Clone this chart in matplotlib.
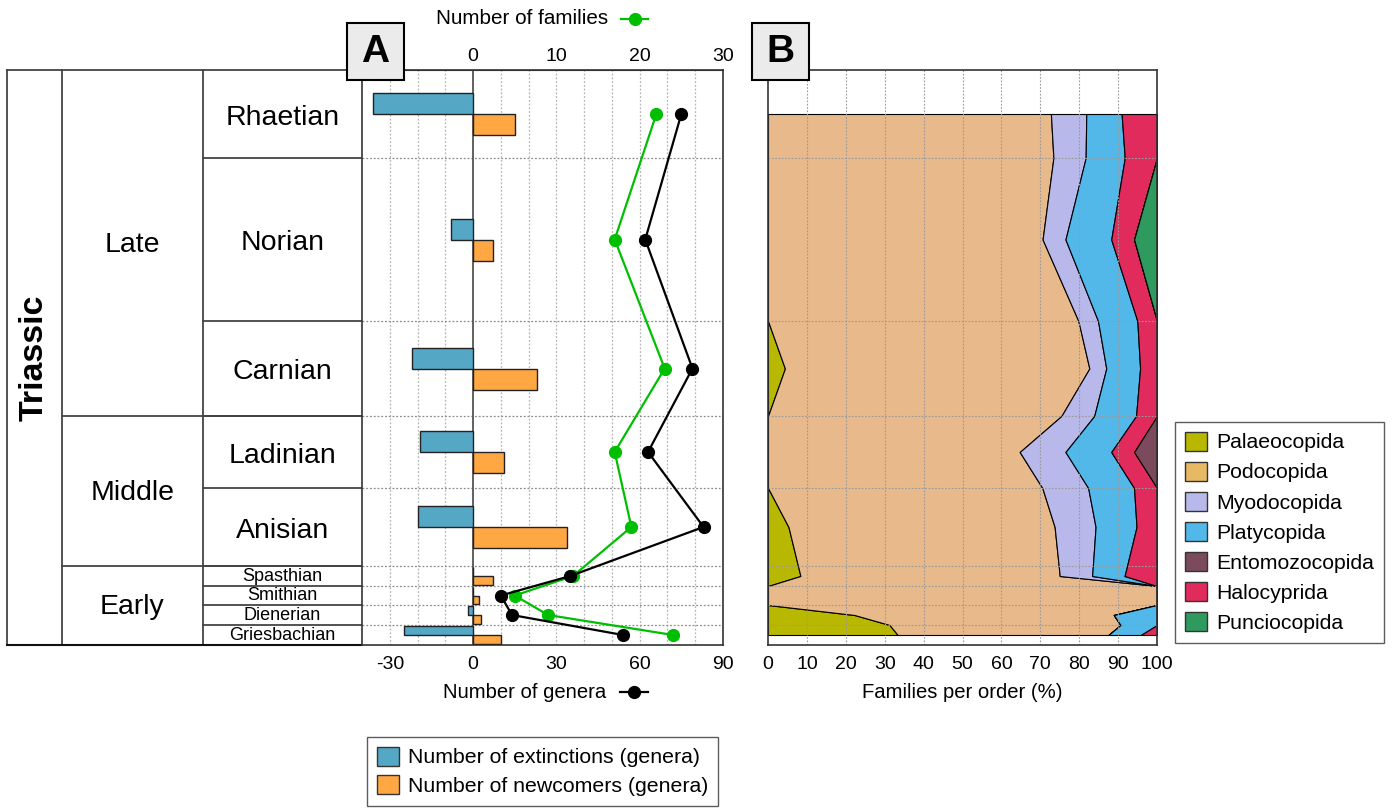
import numpy as np
import matplotlib
matplotlib.use("Agg")
import matplotlib.pyplot as plt
from matplotlib.patches import Rectangle, Patch
from matplotlib.lines import Line2D

plt.rcParams["font.family"] = ["Liberation Sans", "DejaVu Sans"]
plt.rcParams["axes.unicode_minus"] = False

# ---------------- data ----------------
period = "Triassic"
epochs = ["Late", "Middle", "Early"]
epoch_stage_count = [3, 2, 4]
stages = ["Rhaetian", "Norian", "Carnian", "Ladinian", "Anisian",
          "Spasthian", "Smithian", "Dienerian", "Griesbachian"]
stage_height = [88, 163, 95, 72, 78, 20, 19, 20, 20]   # drawn thickness of each stage row

extinctions = [36, 8, 22, 19, 20, 0, 0, 2, 25]      # genera
newcomers = [15, 7, 23, 11, 34, 7, 2, 3, 10]        # genera
genera = [75, 62, 79, 63, 83, 35, 10, 14, 54]
families = [22, 17, 23, 17, 19, 12, 5, 9, 24]

orders = ["Palaeocopida", "Podocopida", "Myodocopida", "Platycopida",
          "Entomozocopida", "Halocyprida", "Punciocopida"]
palaeocopida = [0, 0, 1, 0, 1, 1, 0, 2, 8]
podocopida = [16, 12, 18, 11, 13, 8, 5, 6, 13]
myodocopida = [2, 1, 1, 2, 2, 1, 0, 0, 0]
platycopida = [2, 2, 2, 2, 2, 1, 0, 1, 2]
entomozocopida = [0, 0, 0, 1, 0, 0, 0, 0, 0]
halocyprida = [2, 1, 1, 1, 1, 1, 0, 0, 1]
punciocopida = [0, 1, 0, 0, 0, 0, 0, 0, 0]

# ---------------- style ----------------
C_EXT = "#55a7c6"
C_NEW = "#ffa843"
C_FAM = "#00bf00"
C_GEN = "#000000"
order_fill = {
    "Palaeocopida": "#b8b800",
    "Podocopida": "#e8b98a",
    "Myodocopida": "#b8b8ea",
    "Platycopida": "#52b8ea",
    "Entomozocopida": "#7b4a5c",
    "Halocyprida": "#e02b5c",
    "Punciocopida": "#2e9a5e",
}
order_legend = dict(order_fill, Podocopida="#e8b964")

W, H = 1397, 808
fig = plt.figure(figsize=(W / 100, H / 100), dpi=100)


def fig_box(left, top, right, bottom):
    return [left / W, 1 - bottom / H, (right - left) / W, (bottom - top) / H]


bounds = np.concatenate([[0], np.cumsum(stage_height)]).astype(float)
mids = (bounds[:-1] + bounds[1:]) / 2
total = bounds[-1]

LINE = "#444444"
TXT_DY = 3.5   # optical centring of labels without descenders

# ---------------- stratigraphic column ----------------
ax_t = fig.add_axes(fig_box(7, 70, 362, 645))
ax_t.set_xlim(0, 355)
ax_t.set_ylim(total, 0)
ax_t.axis("off")
col_x = [0, 55, 195.5, 355]
for x in col_x[:3]:
    ax_t.plot([x, x], [0, total], color=LINE, lw=1.3, clip_on=False)
ax_t.plot([0, 355], [0, 0], color=LINE, lw=1.3, clip_on=False)
ax_t.plot([0, 355], [total, total], color="#111111", lw=1.5, clip_on=False)
epoch_edges = np.concatenate([[0], np.cumsum(epoch_stage_count)])
for k in epoch_edges[1:-1]:
    ax_t.plot([col_x[1], col_x[3]], [bounds[k], bounds[k]], color=LINE, lw=1.3)
for b in bounds[1:-1]:
    ax_t.plot([col_x[2], col_x[3]], [b, b], color=LINE, lw=1.3)

ax_t.text((col_x[0] + col_x[1]) / 2, total / 2, period, rotation=90,
          ha="center", va="center", fontsize=24.5, fontweight="bold")
for name, a, b in zip(epochs, epoch_edges[:-1], epoch_edges[1:]):
    ax_t.text((col_x[1] + col_x[2]) / 2, (bounds[a] + bounds[b]) / 2 + TXT_DY - 1.5, name,
              ha="center", va="center", fontsize=20.5)
for name, y, h in zip(stages, mids, stage_height):
    big = h > 40
    ax_t.text((col_x[2] + col_x[3]) / 2, y + (TXT_DY if big else 0.5), name,
              ha="center", va="center", fontsize=20.5 if big else 13)

# ---------------- panel A ----------------
axA = fig.add_axes(fig_box(362, 70, 723, 645))
axA.set_xlim(-40, 90)
axA.set_ylim(total, 0)
for v in range(-30, 90, 10):
    if v != 0:
        axA.axvline(v, color="#b5b5b5", lw=0.9, ls=(0, (1.5, 1.5)), zorder=0)
for b in bounds[1:-1]:
    axA.axhline(b, color="#8c8c8c", lw=0.9, ls=(0, (1.5, 1.5)), zorder=0)
axA.axvline(0, color="#555555", lw=1.3, zorder=1)

bar_h = np.minimum(21, 0.44 * np.array(stage_height))
axA.barh(mids - bar_h / 2, -np.array(extinctions), height=bar_h,
         color=C_EXT, edgecolor="#222222", lw=1.0, zorder=3)
axA.barh(mids + bar_h / 2, newcomers, height=bar_h,
         color=C_NEW, edgecolor="#222222", lw=1.0, zorder=3)

# families share the panel with genera: 1 family tick unit = 3 genera units
FAM_SCALE = 3
axA.plot(np.array(families) * FAM_SCALE, mids, "-o", color=C_FAM, lw=1.6,
         ms=8.5, zorder=4)
axA.plot(genera, mids, "-o", color=C_GEN, lw=1.6, ms=8.5, zorder=5)

axA.set_xticks([-30, 0, 30, 60, 90])
axA.set_yticks([])
axA.tick_params(axis="x", length=0, pad=8, labelsize=14)
sec = axA.secondary_xaxis("top", functions=(lambda g: g / FAM_SCALE,
                                              lambda f: f * FAM_SCALE))
sec.set_xticks([0, 10, 20, 30])
sec.tick_params(length=0, pad=3.5, labelsize=14)
for sp in axA.spines.values():
    sp.set_color("#333333")
    sp.set_linewidth(1.2)
sec.spines["top"].set_color("#333333")

# ---------------- panel B ----------------
axB = fig.add_axes(fig_box(768, 70, 1157, 645))
axB.set_xlim(0, 100)
axB.set_ylim(total, 0)

order_counts = {
    "Palaeocopida": palaeocopida,
    "Podocopida": podocopida,
    "Myodocopida": myodocopida,
    "Platycopida": platycopida,
    "Entomozocopida": entomozocopida,
    "Halocyprida": halocyprida,
    "Punciocopida": punciocopida,
}


def knots(c):
    """Stage-midpoint knots, closed with zero at the boundary next to an absent stage."""
    ys, vs = [], []
    n = len(c)
    for i in range(n):
        if c[i] <= 0:
            continue
        if i > 0 and c[i - 1] <= 0:
            ys.append(bounds[i]); vs.append(0.0)
        ys.append(mids[i]); vs.append(float(c[i]))
        if i < n - 1 and c[i + 1] <= 0:
            ys.append(bounds[i + 1]); vs.append(0.0)
    return np.array(ys), np.array(vs)


all_y = list(mids)
for c in order_counts.values():
    all_y += list(knots(c)[0])
y_grid = np.unique(np.clip(all_y, mids[0], mids[-1]))

curves = {}
for name, c in order_counts.items():
    ys, vs = knots(c)
    curves[name] = np.interp(y_grid, ys, vs, left=0.0, right=0.0)
tot_curve = sum(curves.values())

stack_order = ["Palaeocopida", "Podocopida", "Myodocopida", "Platycopida",
               "Halocyprida", "Entomozocopida", "Punciocopida"]
edge_kw = dict(edgecolor="black", lw=0.8, zorder=1)
lower = np.zeros_like(y_grid)
for name in stack_order:
    upper = lower + 100.0 * curves[name] / tot_curve
    axB.fill_betweenx(y_grid, lower, upper, facecolor=order_fill[name], **edge_kw)
    lower = upper

for v in range(10, 100, 10):
    axB.axvline(v, color="#9a9a9a", lw=0.8, ls=(0, (1.5, 1.5)), zorder=2)
for b in bounds[1:-1]:
    axB.axhline(b, color="#9a9a9a", lw=0.8, ls=(0, (1.5, 1.5)), zorder=2)
axB.set_xticks(range(0, 101, 10))
axB.set_yticks([])
axB.tick_params(axis="x", length=0, pad=8, labelsize=14)
for sp in axB.spines.values():
    sp.set_color("#333333")
    sp.set_linewidth(1.2)
    sp.set_zorder(4)

# ---------------- axis titles ----------------
fig.text(436 / W, 1 - 19 / H, "Number of families", ha="left", va="center", fontsize=14.9)
fig.add_artist(Line2D([621 / W, 648 / W], [1 - 19 / H, 1 - 19 / H], color=C_FAM, lw=1.6))
fig.add_artist(Line2D([634.5 / W], [1 - 19 / H], color=C_FAM, marker="o", ms=8.5))
fig.text(443 / W, 1 - 692 / H, "Number of genera", ha="left", va="center", fontsize=14.6)
fig.add_artist(Line2D([620 / W, 648 / W], [1 - 692 / H, 1 - 692 / H], color=C_GEN, lw=1.6))
fig.add_artist(Line2D([634 / W], [1 - 692 / H], color=C_GEN, marker="o", ms=8.5))
fig.text(962 / W, 1 - 692 / H, "Families per order (%)", ha="center", va="center", fontsize=14.6)

# ---------------- panel letters ----------------
for letter, left in [("A", 347), ("B", 752)]:
    fig.add_artist(Rectangle((left / W, 1 - 80 / H), 57 / W, 57 / H,
                             transform=fig.transFigure, facecolor="#ebebeb",
                             edgecolor="black", lw=1.5, zorder=10))
    fig.text((left + 28.5) / W, 1 - 52 / H, letter, ha="center", va="center",
             fontsize=28, fontweight="bold", zorder=11)

# ---------------- legends ----------------
leg_kw = dict(frameon=True, fancybox=False, edgecolor="#333333", fontsize=15.3,
              handlelength=1.05, handleheight=1.0, handletextpad=0.45,
              labelspacing=0.44, borderpad=0.45, borderaxespad=0)
legA = fig.legend(handles=[Patch(facecolor=C_EXT, edgecolor="#333333", label="Number of extinctions (genera)"),
                           Patch(facecolor=C_NEW, edgecolor="#333333", label="Number of newcomers (genera)")],
                  loc="upper left", bbox_to_anchor=(367 / W, 1 - 737 / H),
                  **dict(leg_kw, labelspacing=0.38))
legA.get_frame().set_linewidth(1.0)
legB = fig.legend(handles=[Patch(facecolor=order_legend[o], edgecolor="#333333", label=o) for o in orders],
                  loc="upper left", bbox_to_anchor=(1175 / W, 1 - 422 / H), **leg_kw)
legB.get_frame().set_linewidth(1.0)

fig.savefig("out.png", dpi=100)
